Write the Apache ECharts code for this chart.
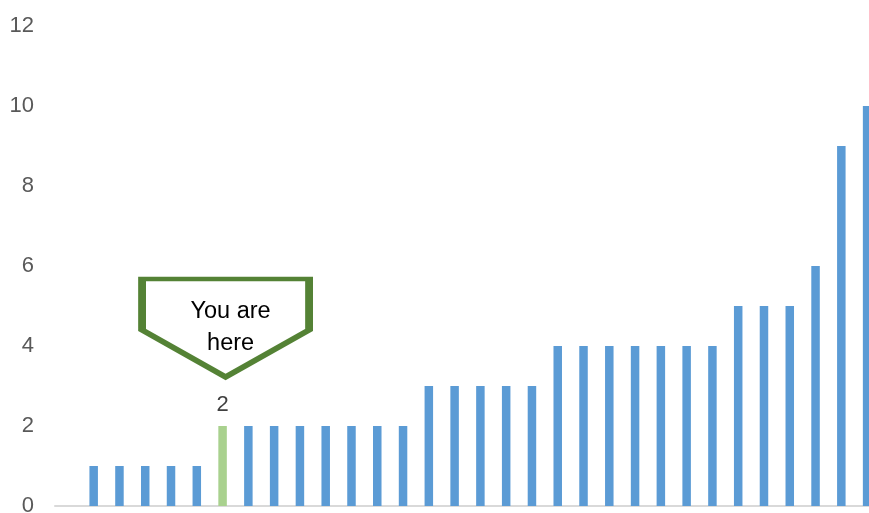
<!DOCTYPE html>
<html>
<head>
<meta charset="utf-8">
<script src="https://cdn.jsdelivr.net/npm/echarts@6/dist/echarts.min.js"></script>
<style>
  html, body { margin: 0; padding: 0; background: #ffffff; }
  #chart { width: 869px; height: 513px; }
</style>
</head>
<body>
<div id="chart"></div>
<script>
// Ranked counts; the leading slot is an empty category that pads the axis start.
const categories = ['', '1', '2', '3', '4', '5', '6', '7', '8', '9', '10', '11', '12', '13', '14', '15',
  '16', '17', '18', '19', '20', '21', '22', '23', '24', '25', '26', '27', '28', '29', '30', '31'];
const values = [null, 1, 1, 1, 1, 1, 2, 2, 2, 2, 2, 2, 2, 2, 3, 3, 3, 3, 3, 4, 4, 4, 4, 4, 4, 4, 5, 5, 5, 6, 9, 10];
const highlightIndex = 6;          // the "you are here" position
const yTicks = { min: 0, max: 12, interval: 2 };
const calloutText = 'You are\nhere';

const BLUE = '#5b9bd5';
const GREEN = '#a9d18e';
const CALLOUT = '#548235';
const FONT = 'Liberation Sans, Arial, sans-serif';

const barData = values.map((v, i) => {
  if (i !== highlightIndex) return v;
  return {
    value: v,
    itemStyle: { color: GREEN },
    label: {
      show: true,
      position: 'top',
      distance: 10,
      color: '#404040',
      fontSize: 22,
      fontFamily: FONT
    }
  };
});

const chart = echarts.init(document.getElementById('chart'), null, { renderer: 'canvas' });
chart.setOption({
  animation: false,
  backgroundColor: '#ffffff',
  // plot area runs slightly past the right and bottom edges of the canvas
  grid: {
    left: 55, top: 26, width: 825, height: 480,
    containLabel: false,
    outerBoundsMode: 'none'
  },
  xAxis: {
    type: 'category',
    data: categories,
    boundaryGap: true,
    axisLine: { show: true, lineStyle: { color: '#d9d9d9', width: 2 } },
    axisTick: { show: false },
    axisLabel: { show: false },
    splitLine: { show: false }
  },
  yAxis: {
    type: 'value',
    min: yTicks.min,
    max: yTicks.max,
    interval: yTicks.interval,
    axisLine: { show: false },
    axisTick: { show: false },
    splitLine: { show: false },
    axisLabel: {
      color: '#595959',
      fontSize: 22,
      fontFamily: FONT,
      margin: 21
    }
  },
  series: [{
    type: 'bar',
    data: barData,
    barWidth: 8.5,
    itemStyle: { color: BLUE },
    markPoint: {
      silent: true,
      data: [{
        coord: [highlightIndex, values[highlightIndex]],
        symbol: 'path://M0,0 L100,0 L100,52 L50,100 L0,52 Z',
        symbolSize: [167, 98],
        symbolKeepAspect: false,
        symbolOffset: [3, -98],
        itemStyle: { color: '#ffffff', borderColor: CALLOUT, borderWidth: 6 },
        label: {
          show: true,
          position: 'inside',
          offset: [5, 0],
          formatter: calloutText,
          color: '#000000',
          fontSize: 23.5,
          lineHeight: 32,
          fontFamily: FONT
        }
      }]
    }
  }]
});
</script>
</body>
</html>
